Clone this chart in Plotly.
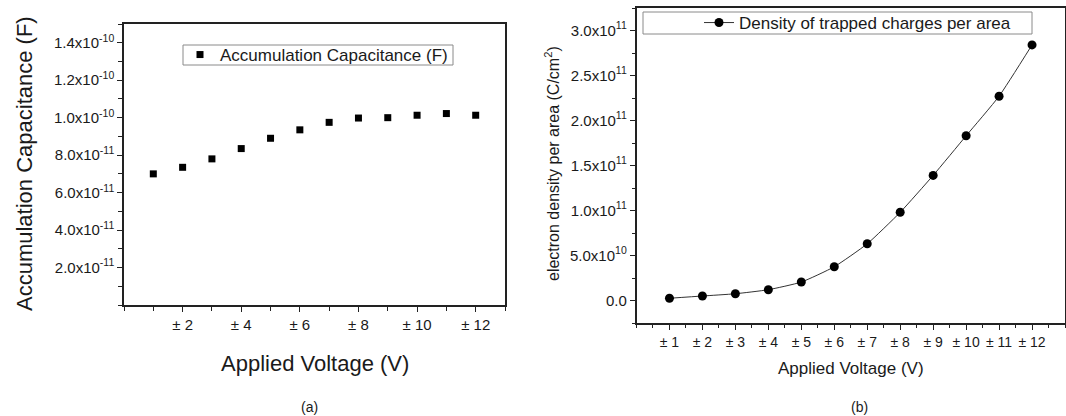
import plotly.graph_objects as go

# ---- data ----
voltage = [1, 2, 3, 4, 5, 6, 7, 8, 9, 10, 11, 12]
capacitance = [7.0e-11, 7.35e-11, 7.8e-11, 8.35e-11, 8.9e-11, 9.35e-11,
               9.75e-11, 9.98e-11, 1.0e-10, 1.013e-10, 1.022e-10, 1.013e-10]
trapped_density = [2.5e9, 5.0e9, 7.5e9, 1.2e10, 2.05e10, 3.75e10,
                   6.3e10, 9.8e10, 1.39e11, 1.83e11, 2.27e11, 2.84e11]

cap_ticks = [2e-11, 4e-11, 6e-11, 8e-11, 1.0e-10, 1.2e-10, 1.4e-10]
cap_ticktext = ["2.0x10<sup>-11</sup>", "4.0x10<sup>-11</sup>", "6.0x10<sup>-11</sup>",
                "8.0x10<sup>-11</sup>", "1.0x10<sup>-10</sup>", "1.2x10<sup>-10</sup>",
                "1.4x10<sup>-10</sup>"]
dens_ticks = [0, 5e10, 1.0e11, 1.5e11, 2.0e11, 2.5e11, 3.0e11]
dens_ticktext = ["0.0", "5.0x10<sup>10</sup>", "1.0x10<sup>11</sup>", "1.5x10<sup>11</sup>",
                 "2.0x10<sup>11</sup>", "2.5x10<sup>11</sup>", "3.0x10<sup>11</sup>"]
volt_ticks_a = [2, 4, 6, 8, 10, 12]
volt_ticks_b = voltage

W, H = 1066, 416
FONT = "Liberation Sans, Arial, sans-serif"
INK = "#1a1a1a"


def px_x(p):
    return p / W


def px_y(p):
    return 1 - p / H


# plot-area rectangles in pixels (left, top, right, bottom)
A = (124, 24, 505, 305)
B = (636.5, 8, 1065, 323)

fig = go.Figure()

fig.add_trace(go.Scatter(
    x=voltage, y=capacitance, mode="markers",
    name="Accumulation Capacitance (F)",
    marker=dict(symbol="square", size=7, color="black"),
    xaxis="x", yaxis="y", legend="legend",
))
fig.add_trace(go.Scatter(
    x=voltage, y=trapped_density, mode="lines+markers",
    name="Density of trapped charges per area",
    line=dict(color="#333333", width=1, shape="spline", smoothing=0.5),
    marker=dict(symbol="circle", size=9, color="black"),
    xaxis="x2", yaxis="y2", legend="legend2",
))

axis_common = dict(
    showline=True, linecolor="#222222", linewidth=1.5, mirror=True,
    showgrid=False, zeroline=False, ticks="outside", tickcolor="#222222",
    tickwidth=1, ticklen=5, automargin=False,
)

fig.update_layout(
    width=W, height=H,
    margin=dict(l=0, r=0, t=0, b=0),
    paper_bgcolor="white", plot_bgcolor="white",
    font=dict(family=FONT, color=INK),
    xaxis=dict(
        axis_common, domain=[px_x(A[0]), px_x(A[2])], range=[0, 13],
        tickmode="array", tickvals=volt_ticks_a,
        ticktext=[f"± {v}" for v in volt_ticks_a],
        tickfont=dict(size=15),
        minor=dict(tickmode="linear", tick0=0, dtick=1, ticklen=4,
                   tickcolor="#222222", ticks="outside"),
        anchor="y",
    ),
    yaxis=dict(
        axis_common, domain=[px_y(A[3]), px_y(A[1])], range=[0, 1.5e-10],
        tickmode="array", tickvals=cap_ticks, ticktext=cap_ticktext,
        tickfont=dict(size=15),
        minor=dict(tickmode="linear", tick0=0, dtick=1e-11, ticklen=4,
                   tickcolor="#222222", ticks="outside"),
        anchor="x",
    ),
    xaxis2=dict(
        axis_common, domain=[px_x(B[0]), px_x(B[2])], range=[0, 13],
        tickmode="array", tickvals=volt_ticks_b,
        ticktext=[f"± {v}" for v in volt_ticks_b],
        tickfont=dict(size=14),
        minor=dict(tickmode="linear", tick0=0, dtick=0.5, ticklen=3,
                   tickcolor="#222222", ticks="outside"),
        anchor="y2",
    ),
    yaxis2=dict(
        axis_common, domain=[px_y(B[3]), px_y(B[1])], range=[-2.5e10, 3.25e11],
        tickmode="array", tickvals=dens_ticks, ticktext=dens_ticktext,
        tickfont=dict(size=15),
        minor=dict(tickmode="linear", tick0=0, dtick=2.5e10, ticklen=3,
                   tickcolor="#222222", ticks="outside"),
        anchor="x2",
    ),
    legend=dict(
        x=px_x(180), y=px_y(37), xanchor="left", yanchor="top",
        bgcolor="rgba(0,0,0,0)", borderwidth=0,
        font=dict(size=17, family=FONT, color=INK),
    ),
    legend2=dict(
        x=px_x(699), y=px_y(5), xanchor="left", yanchor="top",
        bgcolor="rgba(0,0,0,0)", borderwidth=0,
        font=dict(size=17, family=FONT, color=INK),
    ),
    showlegend=True,
)

# legend frames
fig.add_shape(type="rect", xref="paper", yref="paper",
              x0=px_x(183), x1=px_x(453), y0=px_y(65), y1=px_y(45),
              line=dict(color="#8a8a8a", width=1))
fig.add_shape(type="rect", xref="paper", yref="paper",
              x0=px_x(643), x1=px_x(1032), y0=px_y(34), y1=px_y(12),
              line=dict(color="#8a8a8a", width=1))

# axis titles and panel captions
labels = [
    dict(text="Accumulation Capacitance (F)", x=25, y=164, size=22, angle=-90),
    dict(text="Applied Voltage (V)", x=315, y=363, size=22, angle=0),
    dict(text="(a)", x=309, y=407, size=14, angle=0),
    dict(text="electron density per area (C/cm<sup>2</sup>)", x=552, y=164, size=16, angle=-90),
    dict(text="Applied Voltage (V)", x=851, y=368, size=17, angle=0),
    dict(text="(b)", x=859, y=407, size=14, angle=0),
]
for lab in labels:
    fig.add_annotation(
        text=lab["text"], xref="paper", yref="paper",
        x=px_x(lab["x"]), y=px_y(lab["y"]), xanchor="center", yanchor="middle",
        textangle=lab["angle"], showarrow=False,
        font=dict(size=lab["size"], family=FONT, color=INK),
    )

fig.write_html("out.html")
